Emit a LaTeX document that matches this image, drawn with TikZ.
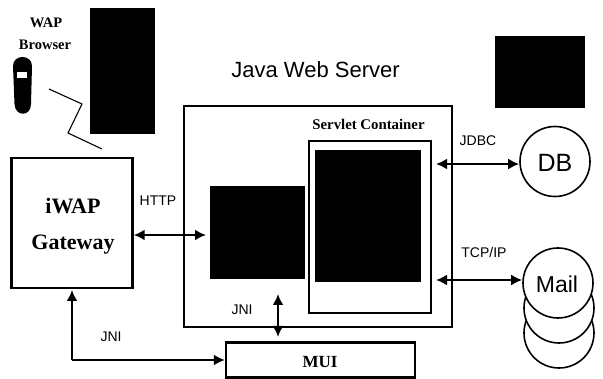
\documentclass[tikz,border=0pt]{standalone}
\usepackage{fontspec}
\setmainfont{Liberation Sans}
\newfontfamily\serifb{Liberation Serif}[Scale=1]
\usetikzlibrary{arrows.meta}
\tikzset{
  blk/.style={fill=black,draw=none,inner sep=0pt},
  thinbox/.style={draw=black,line width=1.5pt,fill=none,inner sep=0pt},
  thickbox/.style={draw=black,line width=2.3pt,fill=none,inner sep=0pt},
  disk/.style={circle,draw=black,line width=1.6pt,fill=white,minimum size=70pt,inner sep=0pt},
  conn/.style={line width=2.2pt,{Latex[length=11pt,width=11pt]}-{Latex[length=11pt,width=11pt]}},
  conno/.style={line width=2.2pt,-{Latex[length=11pt,width=11pt]}},
  lab/.style={font=\fontsize{14}{16}\selectfont,inner sep=0pt},
  slab/.style={inner sep=0pt,align=center}
}
\begin{document}
\begin{tikzpicture}[x=1pt,y=-1pt]
\useasboundingbox (0,0) rectangle (603,379);
% dark blocks
\fill[black] (90,8) rectangle (155,134);
\fill[black] (495,36) rectangle (585,108);
% phone
\fill[black] (13,66) .. controls (13,54) and (32,54) .. (32,66) -- (31,104) .. controls (31,117) and (15,117) .. (14.500,104) -- cycle;
\fill[white] (17,72) rectangle (27,78);
% zigzag
\draw[line width=1.1pt] (49,89) -- (82,104) -- (68,133) -- (102,149);
% boxes
\node[thickbox,minimum width=121pt,minimum height=130pt] (gw) at (72,223) {};
\node[thinbox,minimum width=268pt,minimum height=221pt] (srv) at (318,216.5) {};
\node[thickbox,line width=2pt,minimum width=122pt,minimum height=172pt] (sc) at (370,227) {};
\node[blk,minimum width=106pt,minimum height=132pt] (inner) at (368,216) {};
\node[blk,minimum width=95pt,minimum height=93pt] (eng) at (257.5,232.5) {};
\node[thickbox,minimum width=189pt,minimum height=35pt] (mui) at (320.5,360) {};
% disks
\node[disk] (m3) at (559,333) {};
\node[disk] (m2) at (559,308) {};
\node[disk] (mail) at (558,283) {};
\node[disk] (db) at (555,161.5) {};
% coordinates for free ends
\coordinate (jdbcL) at (436,164);
\coordinate (tcpL) at (436,280);
\coordinate (httpR) at (206,235);
\coordinate (jniT) at (278,294);
\coordinate (jniB) at (278,337);
\coordinate (gwB) at (72,290);
\coordinate (cor) at (72,360);
% connectors
\draw[conn] (jdbcL) -- (db.west |- jdbcL);
\draw[conn] (tcpL) -- (mail.west |- tcpL);
\draw[conn] (gw.east |- httpR) -- (httpR);
\draw[conn] (jniT) -- (jniB);
\draw[conno,line join=miter] (cor) -- (gwB);
\draw[conno] (cor) -- (mui.west |- cor);
% labels
\node[slab,font=\serifb\bfseries\fontsize{14.5}{17}\selectfont] at (46,23) (wb) {WAP};
\node[slab,font=\serifb\bfseries\fontsize{14.5}{17}\selectfont] at (45,45) (wb2) {Browser};
\node[inner sep=0pt,font=\fontsize{22}{26}\selectfont] (title) at (315.500,70) {Java Web Server};
\node[slab,font=\serifb\bfseries\fontsize{14.8}{17}\selectfont] (sct) at (368.500,124) {Servlet Container};
\node[slab,font=\serifb\bfseries\fontsize{22}{36}\selectfont] (gwt) at (73,226) {iWAP\\Gateway};
\node[slab,font=\serifb\bfseries\fontsize{17}{20}\selectfont] (muit) at (320,362) {MUI};
\node[lab] (l1) at (158,201) {HTTP};
\node[lab] (l2) at (242,310) {JNI};
\node[lab] (l3) at (111,337) {JNI};
\node[lab] (l4) at (478,141) {JDBC};
\node[lab] (l5) at (484,252) {TCP/IP};
\node[font=\fontsize{25}{28}\selectfont,inner sep=0pt] (dbt) at (555,163) {DB};
\node[font=\fontsize{23}{28}\selectfont,inner sep=0pt] (mt) at (557,284) {Mail};
\end{tikzpicture}
\end{document}
